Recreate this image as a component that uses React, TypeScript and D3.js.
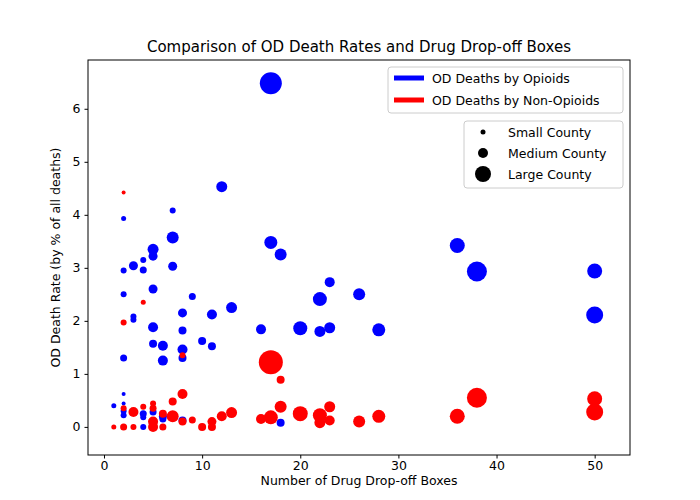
import React, { useRef, useEffect } from "react";
import * as d3 from "d3";

// [boxes, death rate %, marker radius]
const opioidPoints: [number, number, number][] = [
  [17, 6.48, 11], [12, 4.53, 5.5], [7, 4.08, 3], [2, 3.93, 2.5], [7, 3.57, 6],
  [17, 3.48, 6.5], [36, 3.42, 7.5], [5, 3.35, 5.5], [18, 3.25, 6], [5, 3.22, 4.5],
  [4, 3.15, 3], [3, 3.04, 4.5], [7, 3.03, 4.5], [2, 2.95, 3], [4, 2.96, 3.5],
  [38, 2.93, 10], [50, 2.94, 7.5], [23, 2.73, 5], [5, 2.6, 4.5], [2, 2.5, 3],
  [26, 2.5, 6], [9, 2.46, 3.5], [22, 2.41, 7], [13, 2.25, 5.5], [8, 2.15, 4.5],
  [11, 2.12, 5], [50, 2.11, 8.5], [3, 2.08, 3], [3, 2.02, 3], [5, 1.88, 5],
  [20, 1.86, 7], [23, 1.87, 5.5], [16, 1.84, 5], [28, 1.83, 6.5], [8, 1.82, 4],
  [22, 1.8, 5.5], [10, 1.62, 4], [5, 1.57, 4], [6, 1.53, 5], [11, 1.52, 4],
  [8, 1.46, 5], [2, 1.3, 3.5], [8, 1.3, 4], [6, 1.25, 5], [2, 0.62, 2],
  [2, 0.44, 2], [1, 0.4, 2.5], [2, 0.3, 3], [4, 0.25, 3.5], [18, 0.08, 4],
  [2, 0.22, 3], [4, 0.18, 3], [5, 0.28, 3.5], [6, 0.2, 4], [6, 0.15, 3.5],
  [7, 0.2, 4], [8, 0.12, 4], [4, 0.0, 3], [6, 0.0, 3], [2, 0.0, 2.5],
];

const nonOpioidPoints: [number, number, number][] = [
  [2, 4.42, 2], [4, 2.35, 2.5], [2, 1.97, 3], [8, 1.35, 3], [17, 1.22, 12],
  [18, 0.89, 4], [8, 0.62, 5], [7, 0.48, 4], [5, 0.44, 3], [38, 0.55, 10],
  [50, 0.53, 7.5], [5, 0.35, 3.5], [2, 0.35, 3], [3, 0.28, 5], [18, 0.38, 6],
  [23, 0.38, 5.5], [13, 0.27, 5.5], [20, 0.25, 7.5], [22, 0.22, 7], [17, 0.18, 7],
  [12, 0.2, 5], [11, 0.1, 4.5], [36, 0.2, 7.5], [50, 0.28, 8.5], [28, 0.2, 6.5],
  [16, 0.15, 5], [23, 0.12, 5], [22, 0.08, 5.5], [26, 0.1, 6], [9, 0.13, 3.5],
  [10, 0.0, 4], [11, 0.0, 4], [6, 0.0, 3.5], [5, 0.1, 5], [5, 0.0, 5],
  [7, 0.2, 6], [8, 0.1, 4], [3, 0.0, 3], [1, 0.0, 2.5], [2, 0.0, 3.5],
  [4, 0.38, 3], [6, 0.25, 4],
];

const xTicks = [0, 10, 20, 30, 40, 50];
const yTicks = [0, 1, 2, 3, 4, 5, 6];
const colorLegend = [
  { label: "OD Deaths by Opioids", color: "blue" },
  { label: "OD Deaths by Non-Opioids", color: "red" },
];
const sizeLegend = [
  { label: "Small County", r: 2.5 },
  { label: "Medium County", r: 5 },
  { label: "Large County", r: 8 },
];

const App = () => {
  const svgRef = useRef<SVGSVGElement>(null);

  useEffect(() => {
    if (!svgRef.current) return;
    const svg = d3.select(svgRef.current);
    svg.selectAll("*").remove();

    const width = 700;
    const height = 500;
    const left = 88, right = 630, top = 60, bottom = 455;
    const font = "DejaVu Sans, sans-serif";

    svg.attr("width", width).attr("height", height).style("font-family", font)
      .style("position", "absolute").style("left", "0px").style("top", "0px");
    svg.append("rect").attr("width", width).attr("height", height).attr("fill", "white");

    const x = d3.scaleLinear([-1.63, 53.6], [left, right]);
    const y = d3.scaleLinear([-0.53, 6.92], [bottom, top]);

    const drawPoints = (pts: [number, number, number][], color: string) =>
      svg
        .append("g")
        .selectAll("circle")
        .data(pts)
        .join("circle")
        .attr("cx", (d) => x(d[0]))
        .attr("cy", (d) => y(d[1]))
        .attr("r", (d) => d[2])
        .attr("fill", color);

    drawPoints(opioidPoints, "blue");
    drawPoints(nonOpioidPoints, "red");

    const gx = svg.append("g").attr("transform", `translate(0,${bottom})`);
    gx.call(d3.axisBottom(x).tickValues(xTicks).tickSize(3.5).tickPadding(3).tickSizeOuter(0));
    gx.select(".domain").remove();
    gx.selectAll("text").attr("font-size", 12.5).attr("font-family", font).attr("fill", "black");

    const gy = svg.append("g").attr("transform", `translate(${left},0)`);
    gy.call(d3.axisLeft(y).tickValues(yTicks).tickSize(3.5).tickPadding(4).tickSizeOuter(0));
    gy.select(".domain").remove();
    gy.selectAll("text").attr("font-size", 12.5).attr("font-family", font).attr("fill", "black");

    svg
      .append("rect")
      .attr("x", left).attr("y", top)
      .attr("width", right - left).attr("height", bottom - top)
      .attr("fill", "none").attr("stroke", "black").attr("stroke-width", 1);

    svg.append("text").attr("x", (left + right) / 2).attr("y", 52)
      .attr("text-anchor", "middle").attr("font-size", 15)
      .text("Comparison of OD Death Rates and Drug Drop-off Boxes");
    svg.append("text").attr("x", (left + right) / 2).attr("y", 485)
      .attr("text-anchor", "middle").attr("font-size", 12.5)
      .text("Number of Drug Drop-off Boxes");
    svg.append("text")
      .attr("transform", `translate(60,${(top + bottom) / 2}) rotate(-90)`)
      .attr("text-anchor", "middle").attr("font-size", 12.5)
      .text("OD Death Rate (by % of all deaths)");

    const l1 = svg.append("g");
    l1.append("rect").attr("x", 388).attr("y", 67).attr("width", 235).attr("height", 46)
      .attr("rx", 3).attr("fill", "white").attr("stroke", "#ccc");
    colorLegend.forEach((d, i) => {
      const yy = 78 + i * 22;
      l1.append("line").attr("x1", 394).attr("x2", 424).attr("y1", yy).attr("y2", yy)
        .attr("stroke", d.color).attr("stroke-width", 5);
      l1.append("text").attr("x", 432).attr("y", yy + 5).attr("font-size", 12.5).text(d.label);
    });

    const l2 = svg.append("g");
    l2.append("rect").attr("x", 464).attr("y", 121).attr("width", 159).attr("height", 67)
      .attr("rx", 3).attr("fill", "white").attr("stroke", "#ccc");
    sizeLegend.forEach((d, i) => {
      const yy = 132 + i * 21;
      l2.append("circle").attr("cx", 483).attr("cy", yy).attr("r", d.r).attr("fill", "black");
      l2.append("text").attr("x", 508).attr("y", yy + 5).attr("font-size", 12.5).text(d.label);
    });
  }, []);

  return <svg ref={svgRef}></svg>;
};

export default App;
